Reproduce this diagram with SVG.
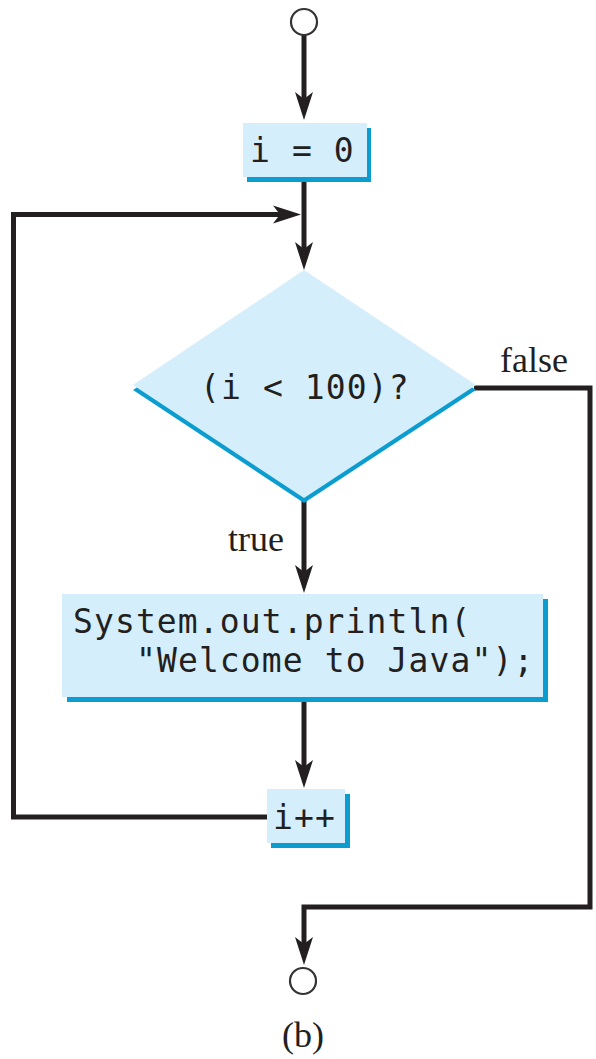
<svg xmlns="http://www.w3.org/2000/svg" width="596" height="1059" viewBox="0 0 596 1059">
<style>
.edge{fill:none;stroke:#231f20;stroke-width:5;stroke-linejoin:miter}
.box{fill:#d4eefb}
.shadow{fill:#0b9dcf}
.code{font-family:"DejaVu Sans Mono",monospace;font-size:33px;letter-spacing:1.1px;fill:#231f20}
.lbl{font-family:"Liberation Serif",serif;font-size:36px;fill:#231f20}
.term{fill:#fff;stroke:#333;stroke-width:2.2}
</style>
<defs>
<marker id="ah" markerUnits="userSpaceOnUse" viewBox="-30 -10 32 20" refX="-12" refY="0" markerWidth="32" markerHeight="20" orient="auto">
<path d="M0,0 L-28,-9 L-21,0 L-28,9 Z" fill="#231f20"/>
</marker>
</defs>
<rect width="596" height="1059" fill="#fff"/>
<g id="connectors">
<line class="edge" x1="304" y1="35" x2="304" y2="108" marker-end="url(#ah)"/>
<line class="edge" x1="304" y1="180" x2="304" y2="258" marker-end="url(#ah)"/>
<line class="edge" x1="304" y1="500" x2="304" y2="581" marker-end="url(#ah)"/>
<line class="edge" x1="304" y1="700" x2="304" y2="776" marker-end="url(#ah)"/>
<polyline class="edge" points="268,817 13.5,817 13.5,214.5 289,214.5" marker-end="url(#ah)"/>
<polyline class="edge" points="474,388 590,388 590,907 304,907 304,953" marker-end="url(#ah)"/>
</g>
<g id="start"><circle class="term" cx="304" cy="22" r="13"/></g>
<g id="init">
<rect class="shadow" x="247" y="128" width="124" height="54"/>
<rect class="box" x="243" y="123" width="124" height="54"/>
<text class="code" x="250" y="162">i = 0</text>
</g>
<g id="cond">
<polygon class="shadow" points="304,275 476,390 304,503 133,390"/>
<polygon class="box" points="304,270 476,385 304,498 133,385"/>
<text class="code" x="200" y="399">(i &lt; 100)?</text>
</g>
<g id="print">
<rect class="shadow" x="67" y="599" width="481" height="103"/>
<rect class="box" x="62" y="594" width="481" height="103"/>
<text class="code" x="73" y="633">System.out.println(</text>
<text class="code" x="136" y="672">"Welcome to Java");</text>
</g>
<g id="incr">
<rect class="shadow" x="271" y="794" width="79" height="54"/>
<rect class="box" x="267" y="789" width="78" height="54"/>
<text class="code" x="273" y="829">i++</text>
</g>
<g id="end"><circle class="term" cx="303" cy="981" r="13"/></g>
<g id="labels">
<text class="lbl" x="500" y="372">false</text>
<text class="lbl" x="228" y="551">true</text>
<text class="lbl" x="303" y="1047" text-anchor="middle" font-size="33">(b)</text>
</g>
</svg>
